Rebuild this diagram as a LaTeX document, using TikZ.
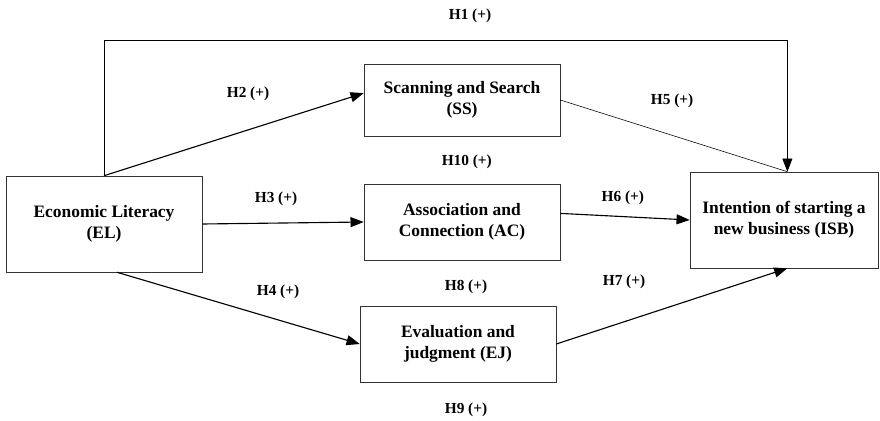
\documentclass[tikz,border=0pt]{standalone}
\usepackage{fontspec}
\setmainfont{Liberation Serif}
\usetikzlibrary{arrows.meta}

\begin{document}
\begin{tikzpicture}[
    box/.style={draw=black!80, thin, align=center, minimum width=4.9cm,
        font=\fontsize{12.4}{15}\selectfont\bfseries},
    hyp/.style={font=\fontsize{10.9}{13}\selectfont\bfseries},
    arr/.style={-{Triangle[length=3.3mm,width=2.5mm]}, thick}]
\useasboundingbox (0,0) rectangle (22,10.5);

% draw the constructs
\node[box, minimum height=2.4cm] (EL) at (2.6,4.9) {Economic Literacy\\(EL)};
\node[box, minimum height=1.8cm] (SS) at (11.55,8.0) {Scanning and Search\\(SS)};
\node[box, minimum height=1.9cm] (AC) at (11.55,4.95) {Association and\\Connection (AC)};
\node[box, minimum height=1.9cm] (EJ) at (11.45,1.9) {Evaluation and\\judgment (EJ)};
\node[box, minimum height=2.4cm, minimum width=4.7cm] (ISB) at (19.6,5.0)
    {Intention of starting a\\new business (ISB)};

% the hypothesised paths
\coordinate (h1top) at (10,9.48);
\draw[arr, semithick] (EL.north) |- (h1top) -| (ISB.86); % H1
\draw[arr] (EL.north) -- (SS.176);                % H2
\draw[arr] (EL.east)  -- (AC.west);               % H3
\draw[arr] (EL.-75)   -- (EJ.west);               % H4
\draw[thin] (SS.east) -- (ISB.86);                % H5
\draw[arr] (AC.5)     -- (ISB.west);              % H6
\draw[arr] (EJ.east)  -- (ISB.-86);               % H7

% the labels
\node[hyp] (H1) at (11.75,10.1)  {H1 (+)};
\node[hyp] (H2) at (6.2,8.15)    {H2 (+)};
\node[hyp] (H3) at (6.9,5.52)    {H3 (+)};
\node[hyp] (H4) at (6.95,3.2)    {H4 (+)};
\node[hyp] (H5) at (16.8,7.97)   {H5 (+)};
\node[hyp] (H6) at (15.57,5.55)  {H6 (+)};
\node[hyp] (H7) at (15.6,3.45)   {H7 (+)};
\node[hyp] (H8) at (11.65,3.32)  {H8 (+)};
\node[hyp] (H9) at (11.65,0.25)  {H9 (+)};
\node[hyp] (H10) at (11.67,6.45) {H10 (+)};

\end{tikzpicture}
\end{document}
